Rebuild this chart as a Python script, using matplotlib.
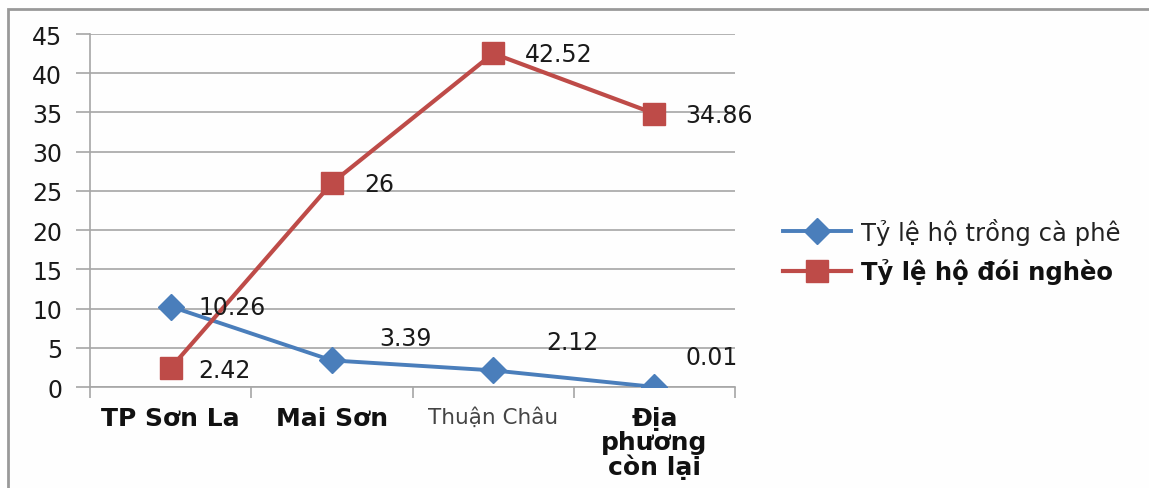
import matplotlib
matplotlib.use("Agg")
import matplotlib.pyplot as plt
from matplotlib.patches import Rectangle

categories = ["TP Sơn La", "Mai Sơn", "Thuận Châu", "Địa\nphương\ncòn lại"]
coffee = [10.26, 3.39, 2.12, 0.01]
poverty = [2.42, 26, 42.52, 34.86]
coffee_label = "Tỷ lệ hộ trồng cà phê"
poverty_label = "Tỷ lệ hộ đói nghèo"
yticks = [0, 5, 10, 15, 20, 25, 30, 35, 40, 45]

# label offsets in pixels (dx, dy)
coffee_offsets = [(28, 0), (47, 22), (53, 28), (31, 30)]
poverty_offsets = [(28, -2), (32, -1), (32, -1), (31, -1)]

BLUE = "#4A7EBB"
RED = "#BE4B48"

W, H = 1149, 489
fig = plt.figure(figsize=(W / 100, H / 100), dpi=100)
fig.patch.set_facecolor("#FEFEFE")

# outer frame
fig.patches.append(Rectangle((8 / W, -0.05), 1.2, 1 - 10 / H + 0.05,
                             transform=fig.transFigure, fill=False,
                             edgecolor="#999999", linewidth=2.0))

ax = fig.add_axes([90 / W, 1 - 388 / H, (735 - 90) / W, (388 - 35) / H])
ax.set_facecolor("#FEFEFE")
x = list(range(len(categories)))

ax.plot(x, coffee, color=BLUE, lw=2.8, marker="D", ms=13,
        markerfacecolor=BLUE, markeredgecolor=BLUE, label=coffee_label, zorder=3)
ax.plot(x, poverty, color=RED, lw=3.0, marker="s", ms=16.5,
        markerfacecolor=RED, markeredgecolor=RED, label=poverty_label, zorder=3)

for xi, v, (dx, dy) in zip(x, coffee, coffee_offsets):
    ax.annotate(f"{v:g}", (xi, v), xytext=(dx, dy), textcoords="offset pixels",
                ha="left", va="center", fontsize=17, color="#1a1a1a", zorder=4)
for xi, v, (dx, dy) in zip(x, poverty, poverty_offsets):
    ax.annotate(f"{v:g}", (xi, v), xytext=(dx, dy), textcoords="offset pixels",
                ha="left", va="center", fontsize=17, color="#1a1a1a", zorder=4)

ax.set_xlim(-0.5, len(categories) - 0.5)
ax.set_ylim(0, 45)
ax.set_yticks(yticks)
ax.set_yticklabels([str(t) for t in yticks], fontsize=17, color="#1a1a1a")
ax.yaxis.grid(True, color="#A6A6A6", lw=1.2)
ax.set_axisbelow(True)

ax.set_xticks([i - 0.5 for i in range(len(categories) + 1)])
ax.set_xticklabels([])
ax.set_xticks(x, minor=True)
ax.set_xticklabels(categories, minor=True)
ax.tick_params(axis="x", which="major", direction="out", length=8, color="#A6A6A6", width=1.2)
ax.tick_params(axis="x", which="minor", length=0, pad=14)
ax.tick_params(axis="y", direction="out", length=10, color="#A6A6A6", width=1.2, pad=10)

for lbl, i in zip(ax.xaxis.get_minorticklabels(), range(len(categories))):
    if i == 2:
        lbl.set_fontsize(15.5)
        lbl.set_color("#444444")
    else:
        lbl.set_fontsize(18)
        lbl.set_fontweight("bold")
        lbl.set_color("#111111")
    lbl.set_linespacing(0.98)

for s in ["top", "right"]:
    ax.spines[s].set_visible(False)
ax.spines["left"].set_color("#A6A6A6")
ax.spines["bottom"].set_color("#A6A6A6")
ax.spines["left"].set_linewidth(1.2)
ax.spines["bottom"].set_linewidth(1.2)

leg = fig.legend(loc="center left", bbox_to_anchor=(761 / W, 1 - 252 / H),
                 frameon=False, fontsize=17.5, handlelength=2.8,
                 labelspacing=0.55, handletextpad=0.4)
texts = leg.get_texts()
texts[0].set_color("#222222")
texts[1].set_fontweight("bold")
texts[1].set_color("#111111")

fig.savefig("out.png", dpi=100, facecolor=fig.get_facecolor())
